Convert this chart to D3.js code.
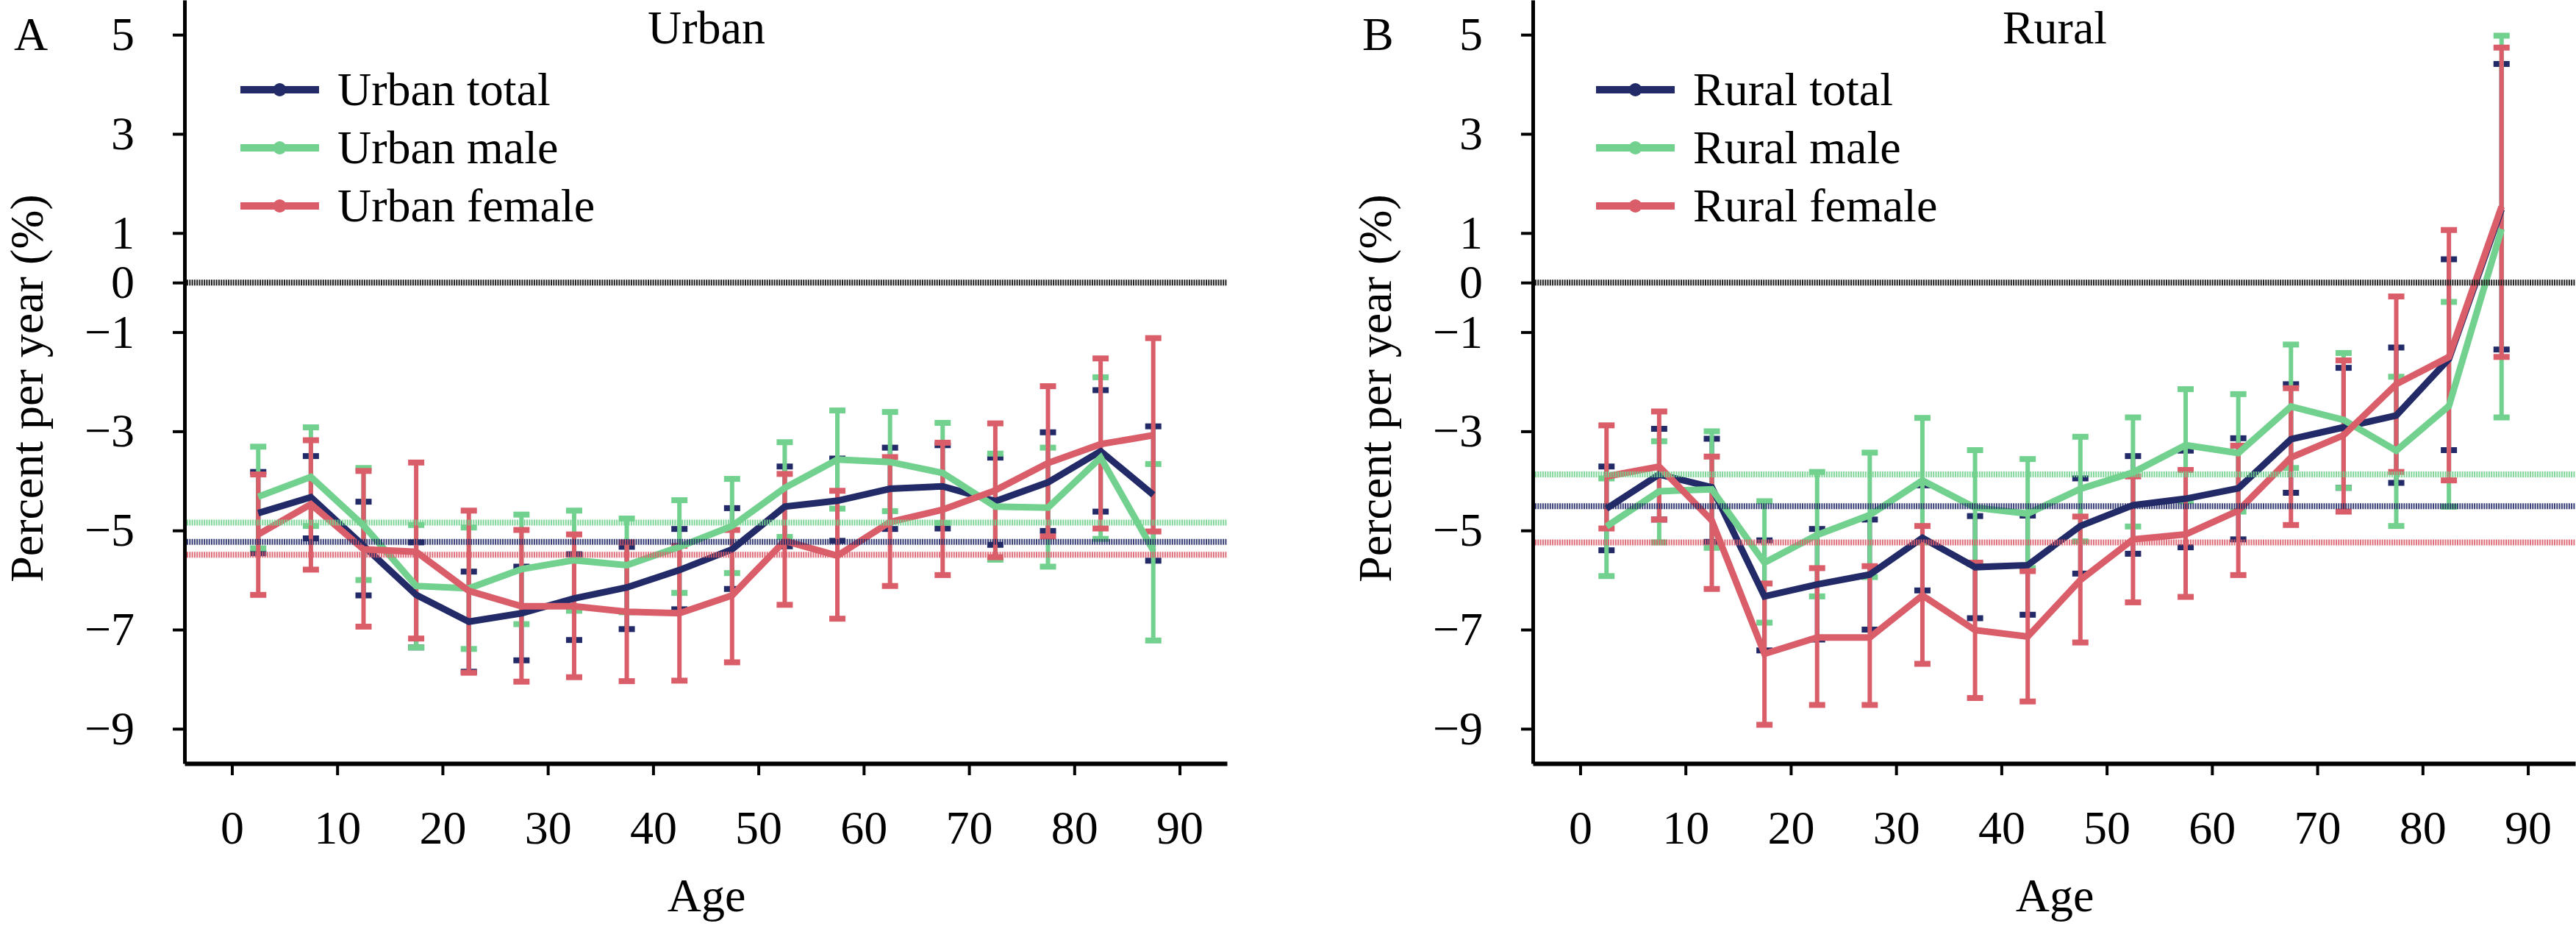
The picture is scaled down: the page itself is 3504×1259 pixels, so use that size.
<!DOCTYPE html>
<html>
<head>
<meta charset="utf-8">
<script src="https://cdn.jsdelivr.net/npm/d3@7"></script>
<style>
  body { margin: 0; background: #ffffff; }
  svg text { font-family: "Liberation Serif", "Times New Roman", Times, serif; }
</style>
</head>
<body>
<svg id="chart" width="3504" height="1259"></svg>
<script>
// ---------------- DATA ----------------
const ages = [2.5, 7.5, 12.5, 17.5, 22.5, 27.5, 32.5, 37.5, 42.5, 47.5, 52.5, 57.5, 62.5, 67.5, 72.5, 77.5, 82.5, 87.5];
const xTickValues = [0, 10, 20, 30, 40, 50, 60, 70, 80, 90];
const yTickValues = [5, 3, 1, 0, -1, -3, -5, -7, -9];

const urbanLabels = ["Urban total", "Urban male", "Urban female"];
const ruralLabels = ["Rural total", "Rural male", "Rural female"];

// Urban
const urbanTotal   = [-4.65, -4.33, -5.31, -6.30, -6.84, -6.67, -6.37, -6.15, -5.80, -5.38, -4.52, -4.40, -4.16, -4.11, -4.41, -4.03, -3.40, -4.28];
const urbanTotalLo = [-5.46, -5.16, -6.31, -7.36, -7.85, -7.62, -7.21, -6.99, -6.59, -6.18, -5.32, -5.21, -4.97, -4.96, -5.29, -5.01, -4.62, -5.61];
const urbanTotalHi = [-3.82, -3.50, -4.42, -5.24, -5.83, -5.73, -5.48, -5.33, -4.97, -4.55, -3.71, -3.55, -3.33, -3.28, -3.53, -3.02, -2.17, -2.90];

const urbanMale    = [-4.32, -3.92, -4.90, -6.12, -6.17, -5.78, -5.60, -5.70, -5.33, -4.91, -4.14, -3.57, -3.62, -3.84, -4.52, -4.54, -3.53, -5.40];
const urbanMaleLo  = [-5.36, -4.91, -6.00, -7.36, -7.39, -6.89, -6.62, -6.65, -6.26, -5.86, -5.13, -4.56, -4.61, -4.85, -5.59, -5.73, -5.17, -7.22];
const urbanMaleHi  = [-3.31, -2.92, -3.74, -4.89, -4.94, -4.68, -4.60, -4.76, -4.39, -3.96, -3.22, -2.58, -2.61, -2.83, -3.45, -3.33, -1.91, -3.66];

const urbanFemale   = [-5.08, -4.47, -5.38, -5.43, -6.22, -6.53, -6.53, -6.64, -6.67, -6.31, -5.21, -5.51, -4.83, -4.58, -4.19, -3.64, -3.26, -3.08];
const urbanFemaleLo = [-6.30, -5.79, -6.94, -7.18, -7.87, -8.05, -7.96, -8.04, -8.03, -7.66, -6.50, -6.78, -6.12, -5.90, -5.54, -5.12, -4.96, -5.02];
const urbanFemaleHi = [-3.87, -3.18, -3.80, -3.63, -4.60, -4.99, -5.08, -5.24, -5.31, -4.99, -3.86, -4.20, -3.52, -3.23, -2.84, -2.09, -1.53, -1.12];

// overall averages: total, male, female
const urbanAverages = [-5.23, -4.84, -5.49];

// Rural
const ruralTotal   = [-4.56, -3.87, -4.13, -6.33, -6.09, -5.89, -5.15, -5.74, -5.70, -4.91, -4.49, -4.36, -4.15, -3.16, -2.92, -2.68, -1.54, 1.48];
const ruralTotalLo = [-5.40, -4.78, -5.23, -7.42, -7.20, -7.00, -6.21, -6.77, -6.70, -5.87, -5.47, -5.34, -5.18, -4.24, -4.14, -4.04, -3.38, -1.35];
const ruralTotalHi = [-3.71, -2.95, -3.15, -5.20, -4.97, -4.78, -4.09, -4.71, -4.70, -3.95, -3.50, -3.39, -3.14, -2.05, -1.72, -1.31, 0.47, 4.41];

const ruralMale    = [-4.92, -4.21, -4.17, -5.65, -5.09, -4.69, -3.99, -4.54, -4.66, -4.16, -3.83, -3.28, -3.44, -2.50, -2.77, -3.39, -2.49, 1.08];
const ruralMaleLo  = [-5.92, -5.24, -5.35, -6.86, -6.33, -5.94, -5.24, -5.68, -5.76, -5.22, -4.92, -4.41, -4.62, -3.74, -4.14, -4.91, -4.52, -2.72];
const ruralMaleHi  = [-3.95, -3.20, -3.00, -4.41, -3.82, -3.43, -2.73, -3.38, -3.56, -3.11, -2.72, -2.15, -2.25, -1.25, -1.42, -1.90, -0.39, 4.98];

const ruralFemale   = [-3.91, -3.71, -4.80, -7.49, -7.16, -7.16, -6.31, -7.01, -7.14, -6.00, -5.18, -5.08, -4.60, -3.53, -3.08, -2.05, -1.50, 1.53];
const ruralFemaleLo = [-4.96, -4.78, -6.18, -8.92, -8.52, -8.52, -7.69, -8.38, -8.45, -7.26, -6.45, -6.34, -5.90, -4.89, -4.62, -3.82, -3.99, -1.50];
const ruralFemaleHi = [-2.88, -2.60, -3.51, -6.07, -5.76, -5.72, -4.91, -5.65, -5.82, -4.72, -3.91, -3.78, -3.29, -2.13, -1.57, -0.28, 1.06, 4.74];

const ruralAverages = [-4.51, -3.87, -5.24];

// ---------------- STYLE ----------------
const colors = ["#222a67", "#72d18e", "#da5e6a"];
const FONT = 64;
const SERIF = '"Liberation Serif", "Times New Roman", Times, serif';

const svg = d3.select("#chart");

function drawPanel(cfg) {
  const g = svg.append("g");
  const x = d3.scaleLinear().domain([-4.5, 94.5]).range([cfg.left, cfg.left + 1418]);
  const y = d3.scaleLinear().domain([-9.7, 5.7]).range([1038, 0]);

  const series = cfg.series;

  // error bars (total, male, female order)
  series.forEach((s, k) => {
    const pts = ages.map((a, i) => ({ a: a, v: s.v[i], lo: s.lo[i], hi: s.hi[i] }));
    const eg = g.append("g").attr("stroke", colors[k]).attr("fill", "none");
    eg.selectAll("line.v").data(pts).join("line")
      .attr("class", "v")
      .attr("x1", d => x(d.a)).attr("x2", d => x(d.a))
      .attr("y1", d => y(d.lo)).attr("y2", d => y(d.hi))
      .attr("stroke-width", 6);
    eg.selectAll("line.ch").data(pts).join("line")
      .attr("class", "ch")
      .attr("x1", d => x(d.a) - 11).attr("x2", d => x(d.a) + 11)
      .attr("y1", d => y(d.hi)).attr("y2", d => y(d.hi))
      .attr("stroke-width", 8);
    eg.selectAll("line.cl").data(pts).join("line")
      .attr("class", "cl")
      .attr("x1", d => x(d.a) - 11).attr("x2", d => x(d.a) + 11)
      .attr("y1", d => y(d.lo)).attr("y2", d => y(d.lo))
      .attr("stroke-width", 8);
  });

  // lines
  const line = d3.line().x(d => x(d[0])).y(d => y(d[1]));
  series.forEach((s, k) => {
    g.append("path")
      .datum(ages.map((a, i) => [a, s.v[i]]))
      .attr("d", line)
      .attr("fill", "none")
      .attr("stroke", colors[k])
      .attr("stroke-width", 9)
      .attr("stroke-linejoin", "miter");
  });

  // reference lines: zero and averages (hatched look)
  const [xa, xb] = x.range();
  g.append("line")
    .attr("x1", xa + 3).attr("x2", xb)
    .attr("y1", y(0)).attr("y2", y(0))
    .attr("stroke", "#1e1e1e").attr("stroke-width", 8)
    .attr("stroke-dasharray", "2 1.3");
  cfg.averages.forEach((m, k) => {
    g.append("line")
      .attr("x1", xa + 3).attr("x2", xb)
      .attr("y1", y(m)).attr("y2", y(m))
      .attr("stroke", colors[k]).attr("stroke-width", 8)
      .attr("stroke-opacity", 0.9)
      .attr("stroke-dasharray", "2 1.3");
  });

  // axes
  const fmt = d => d < 0 ? "\u2212" + Math.abs(d) : String(d);
  const ya = g.append("g")
    .attr("transform", `translate(${cfg.left},0)`)
    .call(d3.axisLeft(y).tickValues(yTickValues).tickFormat(fmt).tickSize(16).tickSizeOuter(0).tickPadding(52));
  ya.select(".domain").attr("stroke-width", 5);
  ya.selectAll(".tick line").attr("stroke-width", 4);

  const xaG = g.append("g")
    .attr("transform", `translate(0,1038)`)
    .call(d3.axisBottom(x).tickValues(xTickValues).tickSize(16).tickSizeOuter(0).tickPadding(48));
  xaG.select(".domain").attr("stroke-width", 6);
  xaG.selectAll(".tick line").attr("stroke-width", 4);

  [ya, xaG].forEach(a => {
    a.attr("font-family", SERIF).attr("font-size", FONT);
    a.selectAll("text")
      .attr("font-family", SERIF)
      .attr("font-size", FONT)
      .style("font-family", SERIF)
      .style("font-size", FONT + "px")
      .attr("fill", "#000");
    a.selectAll("line,path").attr("stroke", "#000");
  });

  // texts
  const t = (txt, xx, yy, anchor) => g.append("text")
    .attr("x", xx).attr("y", yy)
    .attr("text-anchor", anchor || "start")
    .attr("font-family", SERIF)
    .attr("font-size", FONT).attr("fill", "#000")
    .text(txt);

  t(cfg.letter, cfg.left - 232, 68);
  t(cfg.title, cfg.left + 710, 59, "middle");
  t("Age", cfg.left + 710, 1239, "middle");
  g.append("text")
    .attr("transform", `translate(${cfg.left - 193},528) rotate(-90)`)
    .attr("text-anchor", "middle")
    .attr("font-family", SERIF)
    .attr("font-size", FONT).attr("fill", "#000")
    .text("Percent per year (%)");

  // legend
  cfg.labels.forEach((lab, k) => {
    const ry = 122 + 79 * k;
    const lx1 = cfg.left + cfg.legOff, lx2 = lx1 + 107;
    g.append("line")
      .attr("x1", lx1).attr("x2", lx2).attr("y1", ry).attr("y2", ry)
      .attr("stroke", colors[k]).attr("stroke-width", 10);
    g.append("circle")
      .attr("cx", (lx1 + lx2) / 2).attr("cy", ry).attr("r", 9)
      .attr("fill", colors[k]);
    t(lab, lx2 + 25, ry + 21);
  });
}

drawPanel({
  left: 251, letter: "A", title: "Urban", labels: urbanLabels, legOff: 76,
  averages: urbanAverages,
  series: [
    { v: urbanTotal, lo: urbanTotalLo, hi: urbanTotalHi },
    { v: urbanMale, lo: urbanMaleLo, hi: urbanMaleHi },
    { v: urbanFemale, lo: urbanFemaleLo, hi: urbanFemaleHi }
  ]
});

drawPanel({
  left: 2085, letter: "B", title: "Rural", labels: ruralLabels, legOff: 86,
  averages: ruralAverages,
  series: [
    { v: ruralTotal, lo: ruralTotalLo, hi: ruralTotalHi },
    { v: ruralMale, lo: ruralMaleLo, hi: ruralMaleHi },
    { v: ruralFemale, lo: ruralFemaleLo, hi: ruralFemaleHi }
  ]
});
</script>
</body>
</html>
